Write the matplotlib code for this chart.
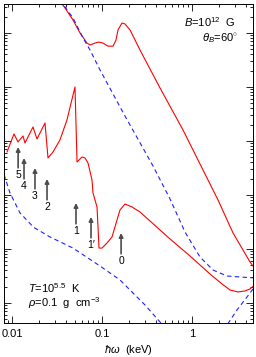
import numpy as np
import matplotlib
matplotlib.use("Agg")
import matplotlib.pyplot as plt

plt.rcParams['font.family'] = ['Liberation Sans', 'DejaVu Sans']
plt.rcParams['mathtext.fontset'] = 'custom'
plt.rcParams['mathtext.rm'] = 'Liberation Sans'
plt.rcParams['mathtext.it'] = 'Liberation Sans:italic'
plt.rcParams['mathtext.bf'] = 'Liberation Sans:bold'

# photon energy (keV) and opacity (arbitrary log units)
# upper red curve
e_red_hi = [0.0316, 0.0388, 0.0476, 0.0570, 0.0681, 0.0736, 0.0836, 0.0926, 0.1026,
            0.1166, 0.1325, 0.143, 0.1506, 0.1668, 0.180, 0.2048, 0.2643, 0.441,
            0.794, 1.945, 2.855, 4.41, 5.14]
k_red_hi = [4.6e5, 2.9e5, 1.74e5, 1.0e5, 6.5e4, 6.0e4, 6.5e4, 6.8e4, 6.5e4,
            5.7e4, 5.7e4, 7.4e4, 1.14e5, 1.53e5, 1.47e5, 1.14e5, 4.84e4, 9.6e3,
            1.6e3, 80.8, 19.8, 5.74, 4.08]

# upper blue dashed curve
e_blue_hi = [0.0341, 0.0476, 0.0615, 0.0736, 0.095, 0.180, 0.369, 0.570, 0.836,
             1.227, 1.711, 2.45, 3.41, 5.14]
k_blue_hi = [4.08e5, 1.9e5, 8.1e4, 4.84e4, 2.07e4, 2.90e3, 344, 84.3, 20.6,
             7.1, 4.08, 3.16, 3.03, 2.90]

# lower red curve
e_red_lo = [0.0088, 0.01052, 0.01166, 0.01325, 0.01394, 0.01711, 0.01896, 0.02326,
            0.02512, 0.02856, 0.0341, 0.0408, 0.0501, 0.0528, 0.0600, 0.0648,
            0.0699, 0.0774, 0.0794, 0.0880, 0.0903, 0.0926, 0.1, 0.1137, 0.1292,
            0.1468, 0.1585, 0.180, 0.2155, 0.2643, 0.3415, 0.570, 0.950, 1.585,
            2.154, 2.643, 3.245, 3.88, 4.41, 5.14]
k_red_lo = [626, 1349, 958, 1238, 918, 1816, 1089, 2154,
            484, 626, 1044, 2448, 1.0e4, 408, 505, 484,
            391, 190, 109, 60, 25.6, 10.4, 10.4, 12.9, 16.7,
            34.4, 52.7, 68.1, 60, 48.4, 33.0, 15.3, 7.42, 3.44,
            2.25, 1.74, 1.60, 1.67, 1.82, 2.25]

# lower blue dashed curve
e_blue_lo = [0.00815, 0.0095, 0.01227, 0.01640, 0.01711, 0.02643, 0.0476, 0.095,
             0.1585, 0.2209, 0.3006, 0.441, 0.514, 1.08, 2.05, 2.45, 3.16, 4.08, 5.14]
k_blue_lo = [240, 109, 46.4, 28.0, 25.6, 16.7, 10.4, 4.84,
             2.67, 1.53, 0.918, 0.445, 0.316, 0.167, 0.278, 0.391, 0.742, 1.29, 2.15]

# transition markers
arrow_labels = ['5', '4', '3', '2', '1', "1\u2032", '0']
arrow_e = [0.0117, 0.0136, 0.0180, 0.0245, 0.0514, 0.0755, 0.163]
arrow_k = [774, 484, 316, 198, 71.1, 39.2, 19.8]

fig = plt.figure(figsize=(2.56, 3.57), dpi=100)
ax = fig.add_axes([4 / 256, 34 / 357, 249 / 256, 319 / 357])

ax.plot(e_red_hi, k_red_hi, color='red', lw=0.8)
ax.plot(e_red_lo, k_red_lo, color='red', lw=0.8)
ax.plot(e_blue_hi, k_blue_hi, color='#2020ff', lw=0.8, dashes=(4, 3))
ax.plot(e_blue_lo, k_blue_lo, color='#2020ff', lw=0.8, dashes=(4, 3))

for lab, e, k in zip(arrow_labels, arrow_e, arrow_k):
    ax.annotate('', xy=(e, k), xytext=(0, -15), textcoords='offset points',
                xycoords='data',
                arrowprops=dict(arrowstyle='-|>', color='0.3', lw=1.2,
                                mutation_scale=6, shrinkA=0, shrinkB=0))
    ax.annotate(lab, xy=(e, k), xytext=(0, -20), textcoords='offset points',
                ha='center', va='center', fontsize=7.5)

ax.set_xscale('log')
ax.set_yscale('log')
ax.set_xlim(0.00815, 4.76)
ax.set_ylim(0.426, 3.44e5)

ax.set_xticks([0.01, 0.1, 1])
ax.set_xticklabels(['0.01', '0.1', '1'])
ax.yaxis.set_major_locator(matplotlib.ticker.LogLocator(base=10, numticks=20))
ax.yaxis.set_minor_locator(matplotlib.ticker.LogLocator(base=10, subs=np.arange(2, 10), numticks=20))
ax.yaxis.set_minor_formatter(matplotlib.ticker.NullFormatter())
ax.xaxis.set_minor_formatter(matplotlib.ticker.NullFormatter())
ax.set_yticklabels([])
ax.tick_params(which='both', direction='in', top=True, right=True, labelsize=8,
               width=0.6, pad=4)
ax.tick_params(which='major', length=5)
ax.tick_params(which='minor', length=2.5)
for s in ax.spines.values():
    s.set_linewidth(0.7)

ax.set_xlabel(r'$\hbar\omega$  (keV)', fontsize=8, labelpad=3)

ax.text(0.928, 0.944, r'$B$=10$^{12}$  G', transform=ax.transAxes,
        ha='right', va='center', fontsize=8)
ax.text(0.94, 0.893, r'$\theta_B$=60$^{\circ}$', transform=ax.transAxes,
        ha='right', va='center', fontsize=8)
ax.text(0.096, 0.108, r'$T$=10$^{5.5}$  K', transform=ax.transAxes,
        ha='left', va='center', fontsize=8)
ax.text(0.096, 0.061, r'$\rho$=0.1  g  cm$^{-3}$', transform=ax.transAxes,
        ha='left', va='center', fontsize=8)

plt.savefig('out.png', dpi=100)
plt.close()
